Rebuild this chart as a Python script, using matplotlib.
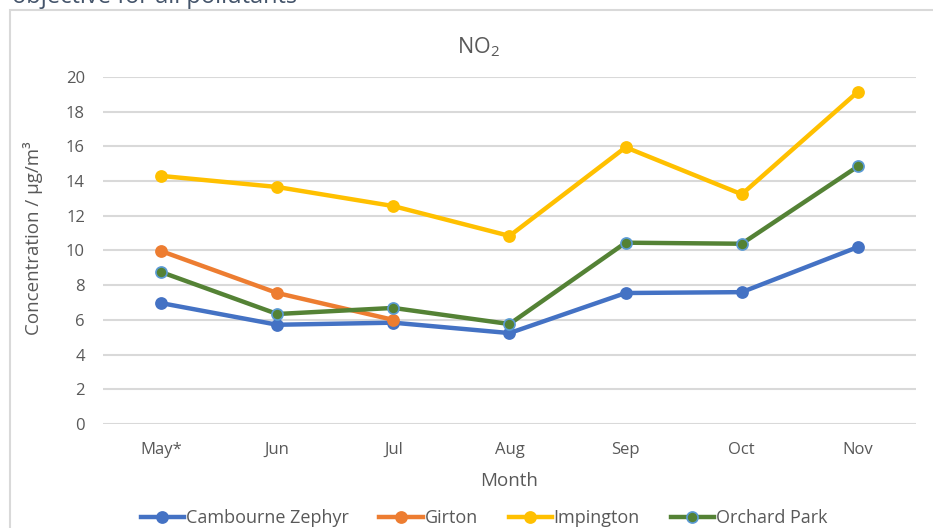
import matplotlib
matplotlib.use("Agg")
import matplotlib.pyplot as plt
from matplotlib.lines import Line2D
from matplotlib.patches import Rectangle

plt.rcParams['font.family'] = ['Open Sans', 'DejaVu Sans']
plt.rcParams['mathtext.default'] = 'regular'

months = ["May*", "Jun", "Jul", "Aug", "Sep", "Oct", "Nov"]
cambourne = [6.97, 5.72, 5.84, 5.24, 7.55, 7.6, 10.2]
girton = [9.97, 7.55, 6.0]
impington = [14.3, 13.66, 12.56, 10.84, 15.95, 13.24, 19.15]
orchard = [8.76, 6.34, 6.69, 5.76, 10.45, 10.39, 14.85]

series = [
    ("Cambourne Zephyr", cambourne, "#4472c4", "#4472c4"),
    ("Girton", girton, "#ed7d31", "#ed7d31"),
    ("Impington", impington, "#ffc000", "#ffc000"),
    ("Orchard Park", orchard, "#548235", "#5b9bd5"),
]

fig = plt.figure(figsize=(9.33, 5.28), dpi=100)
fig.patch.set_facecolor("white")

# chart frame
fig.patches.append(Rectangle((9.5/933, -0.05), 1.0, 1.05 - 9.5/528, transform=fig.transFigure,
                             fill=False, edgecolor="#d9d9d9", linewidth=1.5))
# cropped heading text at the top
fig.text(297/933, 1 - 3/528, "objective for all pollutants", ha="right", va="baseline",
         fontsize=17, color="#44546a")

ax = fig.add_axes([103/933, 104/528, 813/933, (424 - 77)/528])
x = list(range(len(months)))
for name, vals, col, edge in series:
    ax.plot(x[:len(vals)], vals, color=col, linewidth=3.2, marker="o", markersize=8,
            markerfacecolor=col, markeredgecolor=edge, markeredgewidth=1.2,
            solid_capstyle="round", label=name, zorder=3)

ax.set_xlim(-0.5, len(months) - 0.5)
ax.set_ylim(0, 20)
ax.set_yticks(range(0, 21, 2))
ax.set_xticks(x)
ax.set_xticklabels(months)
ax.grid(axis="y", color="#d9d9d9", linewidth=1.5)
ax.set_axisbelow(True)
for s in ax.spines.values():
    s.set_visible(False)
ax.tick_params(axis="both", length=0, colors="#595959", labelsize=12)
ax.tick_params(axis="y", pad=13)
ax.tick_params(axis="x", pad=13)

fig.text(478/933, 1 - 47/528, "NO$_2$", fontsize=15.5, color="#595959", ha="center", va="center")
ax.set_xlabel("Month", fontsize=13.5, color="#595959", labelpad=10)
ax.set_ylabel("Concentration / µg/m³", fontsize=13.5, color="#595959")
ax.yaxis.set_label_coords(-(103 - 43) / 813, (424 - 238) / 347)

handles = [Line2D([0], [0], color=c, linewidth=3.2, marker="o", markersize=8,
                  markerfacecolor=c, markeredgecolor=e, markeredgewidth=1.2)
           for _, _, c, e in series]
fig.legend(handles, [s[0] for s in series], loc="center", bbox_to_anchor=(484/933, 1 - 518/528),
           ncol=4, frameon=False, fontsize=13, labelcolor="#595959",
           handlelength=2.4, handletextpad=0.1, columnspacing=1.7)

fig.savefig("out.png", dpi=100, facecolor="white")
